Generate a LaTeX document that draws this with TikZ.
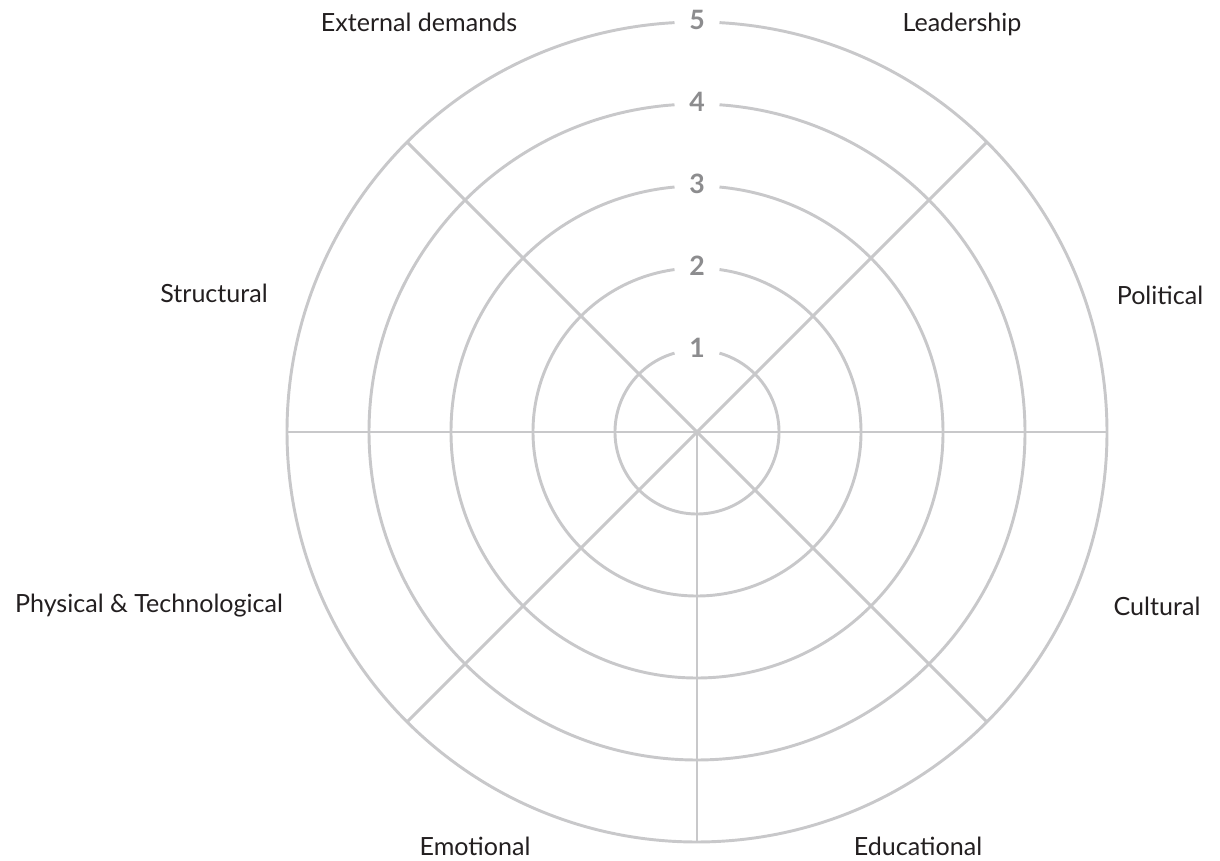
\documentclass[tikz,border=0pt]{standalone}
\usepackage{fontspec}
\setmainfont{Lato}
\newfontfamily\numfont{Lato Black}
\usetikzlibrary{calc}
\definecolor{ringgray}{HTML}{C8C8CA}
\definecolor{numgray}{HTML}{8C8C8E}
\definecolor{labelblack}{HTML}{231F20}
\begin{document}
\begin{tikzpicture}[x=0.75pt,y=0.75pt,
  ring/.style={draw=ringgray,line width=2.2pt},
  numlabel/.style={text=numgray,font=\fontsize{20}{22}\selectfont\bfseries,inner sep=0pt},
  catlabel/.style={text=labelblack,font=\fontsize{18.8}{20}\selectfont,inner sep=0pt}]
\useasboundingbox (0,0) rectangle (1220,860);
\coordinate (c) at (697,428);
% rings with gaps at the top
\foreach \k in {1,...,5}{
  \pgfmathsetmacro{\r}{82*\k}
  \pgfmathsetmacro{\a}{asin(22.5/\r)}
  \draw[ring] (c) ++({90+\a}:{\r*0.75pt}) arc[start angle={90+\a}, end angle={450-\a}, radius={\r*0.75pt}];
  \node[numlabel] (n\k) at ($(c)+(0,\r+2)$) {\k};
}
% spokes
\coordinate (w) at ($(c)+(-410,0)$);
\coordinate (e) at ($(c)+(410,0)$);
\coordinate (s) at ($(c)+(0,-410)$);
\coordinate (nw) at ($(c)+(135:307.5pt)$);
\coordinate (ne) at ($(c)+(45:307.5pt)$);
\coordinate (sw) at ($(c)+(225:307.5pt)$);
\coordinate (se) at ($(c)+(315:307.5pt)$);
\draw[ring] (w) -- (e);
\draw[ring] (c) -- (s);
\draw[ring] (nw) -- (se);
\draw[ring] (ne) -- (sw);
% category labels
\node[catlabel] (ext) at (419,838) {External demands};
\node[catlabel] (lead) at (962,836) {Leadership};
\node[catlabel] (pol) at (1160,565) {Political};
\node[catlabel] (str) at (214,567) {Structural};
\node[catlabel] (phys) at (149,254) {Physical \& Technological};
\node[catlabel] (cult) at (1157,254) {Cultural};
\node[catlabel] (emo) at (475,14) {Emotional};
\node[catlabel] (edu) at (918,14) {Educational};
\end{tikzpicture}
\end{document}
